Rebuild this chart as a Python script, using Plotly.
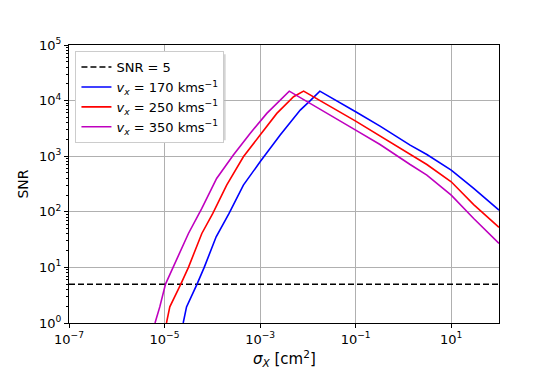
import numpy as np
import plotly.graph_objects as go

# Values (log10 of sigma_X and of SNR)
SNR_LIMIT = 5
X_LIMITS = [1e-7, 1e2]

LOG_SIGMA_170 = [-4.61, -4.54, -4.32, -4.17, -3.92, -3.65, -3.35, -3.00, -2.58, -2.16, -1.95, -1.75,
                 -1.00, -0.49, 0.14, 0.49, 1.00, 1.47, 2.00]
LOG_SNR_170 = [0.00, 0.29, 0.70, 1.00, 1.55, 1.97, 2.48, 2.90, 3.38, 3.83, 4.00, 4.17,
               3.80, 3.54, 3.20, 3.03, 2.75, 2.42, 2.03]

LOG_SIGMA_250 = [-4.96, -4.89, -4.66, -4.50, -4.22, -3.99, -3.70, -3.35, -3.00, -2.65, -2.30, -2.09,
                 -1.00, -0.49, 0.14, 0.49, 1.00, 1.47, 2.00]
LOG_SNR_250 = [0.00, 0.29, 0.70, 1.00, 1.61, 1.97, 2.48, 2.99, 3.38, 3.77, 4.07, 4.17,
               3.63, 3.36, 3.03, 2.85, 2.54, 2.13, 1.72]

LOG_SIGMA_350 = [-5.20, -5.10, -4.98, -4.82, -4.50, -4.22, -3.91, -3.56, -3.21, -2.86, -2.58, -2.39,
                 -1.00, -0.49, 0.14, 0.49, 1.00, 1.47, 2.00]
LOG_SNR_350 = [0.00, 0.29, 0.70, 1.00, 1.61, 2.06, 2.60, 3.02, 3.41, 3.77, 4.00, 4.17,
               3.47, 3.21, 2.85, 2.66, 2.30, 1.88, 1.43]

X_TICKS = [-7, -5, -3, -1, 1]
Y_TICKS = [0, 1, 2, 3, 4, 5]

FONT = "DejaVu Sans"


def sup_label(exp):
    return "10<sup>" + str(exp).replace("-", "\u2212") + "</sup>"


series = [
    ("170", LOG_SIGMA_170, LOG_SNR_170, "#0000ff"),
    ("250", LOG_SIGMA_250, LOG_SNR_250, "#ff0000"),
    ("350", LOG_SIGMA_350, LOG_SNR_350, "#bf00bf"),
]

fig = go.Figure()

fig.add_trace(
    go.Scatter(
        x=X_LIMITS,
        y=[SNR_LIMIT, SNR_LIMIT],
        mode="lines",
        name="SNR = 5",
        line=dict(color="black", width=1.5, dash="6px,3px"),
    )
)

for speed, lx, ly, color in series:
    fig.add_trace(
        go.Scatter(
            x=np.power(10.0, lx),
            y=np.power(10.0, ly),
            mode="lines",
            name=f"<i>v</i><sub><i>x</i></sub> = {speed} kms<sup>\u22121</sup>",
            line=dict(color=color, width=1.6),
        )
    )

# minor ticks on the y axis only (2..9 per decade)
y_minor = [m * 10.0 ** d for d in range(0, 5) for m in range(2, 10)]

axis_common = dict(
    automargin=False,
    showline=True,
    linecolor="black",
    linewidth=1,
    mirror=True,
    ticks="outside",
    ticklen=4,
    tickwidth=1,
    tickcolor="black",
    showgrid=True,
    gridcolor="#b0b0b0",
    gridwidth=1,
    zeroline=False,
    tickfont=dict(family=FONT, size=13, color="black"),
)

fig.update_xaxes(
    type="log",
    range=[-7, 2],
    tickmode="array",
    tickvals=[10.0 ** e for e in X_TICKS],
    ticktext=[sup_label(e) for e in X_TICKS],
    **axis_common,
)

fig.update_yaxes(
    type="log",
    range=[0, 5],
    tickmode="array",
    tickvals=[10.0 ** e for e in Y_TICKS],
    ticktext=[sup_label(e) for e in Y_TICKS],
    minor=dict(tickmode="array", tickvals=y_minor, ticks="outside", ticklen=2,
               tickcolor="black", showgrid=False),
    title=dict(text="SNR", font=dict(family=FONT, size=14, color="black"), standoff=7),
    **axis_common,
)

# x axis label placed by hand, below the tick labels
fig.add_annotation(
    text="<i>σ</i><sub><i>X</i></sub> [cm<sup>2</sup>]",
    xref="paper", yref="paper", x=0.5, y=0,
    xanchor="center", yanchor="middle", yshift=-35,
    showarrow=False,
    font=dict(family=FONT, size=15, color="black"),
)

# soft drop shadow behind the legend box
fig.add_shape(
    type="rect", xref="paper", yref="paper",
    x0=0.0226, x1=0.3644, y0=0.657, y1=0.9665,
    fillcolor="#b8b8b8", line=dict(width=0), layer="above", opacity=0.6,
)

# the page body offsets the figure by 8px, margins account for it
fig.update_layout(
    width=546,
    height=361,
    margin=dict(l=61, r=55, t=37, b=46),
    paper_bgcolor="white",
    plot_bgcolor="white",
    font=dict(family=FONT, size=13, color="black"),
    showlegend=True,
    legend=dict(
        x=0.015,
        y=0.978,
        xanchor="left",
        yanchor="top",
        bgcolor="white",
        bordercolor="#cccccc",
        borderwidth=1,
        font=dict(family=FONT, size=13, color="black"),
        tracegroupgap=0,
    ),
)

fig.write_html("out.html")
